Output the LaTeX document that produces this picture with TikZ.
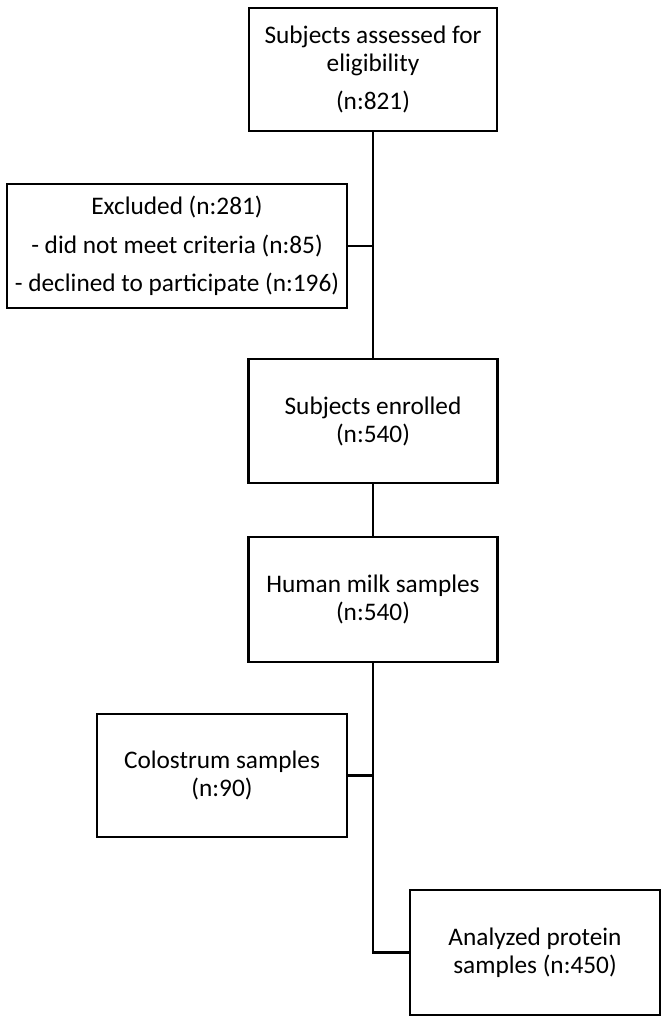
\documentclass[tikz,border=0pt]{standalone}
\usepackage{fontspec}
\setmainfont{Carlito}
\begin{document}
\begin{tikzpicture}[x=1pt,y=-1pt,
  box/.style={draw=black,line width=2.6pt,rectangle,align=center,inner sep=0pt,
    font=\fontsize{25.3}{28}\selectfont},
  conn/.style={draw=black,line width=2.6pt}]
\useasboundingbox (0,0) rectangle (669,1024);
\node[box,minimum width=248pt,minimum height=123pt] (b1) at (373,69.5)
  {Subjects assessed for\\eligibility\\[10pt](n:821)};
\node[box,minimum width=340pt,minimum height=124pt] (b2) at (177,246)
  {Excluded (n:281)\\[11pt]- did not meet criteria (n:85)\\[10pt]- declined to participate (n:196)};
\node[box,minimum width=249pt,minimum height=124pt] (b3) at (373,421)
  {Subjects enrolled\\(n:540)};
\node[box,minimum width=249pt,minimum height=125pt] (b4) at (373,599.5)
  {Human milk samples\\(n:540)};
\node[box,minimum width=250pt,minimum height=123pt] (b5) at (222,775.5)
  {Colostrum samples\\(n:90)};
\node[box,minimum width=250pt,minimum height=125pt] (b6) at (535,952.5)
  {Analyzed protein\\samples (n:450)};
\draw[conn] (b1.south) -- (b3.north);
\draw[conn] (b2.east) -- (b2.east -| b1.south);
\draw[conn] (b3.south) -- (b4.north);
\draw[conn] (b4.south) -- (b4.south |- b6.west) -- (b6.west);
\draw[conn] (b5.east) -- (b5.east -| b4.south);
\end{tikzpicture}
\end{document}
